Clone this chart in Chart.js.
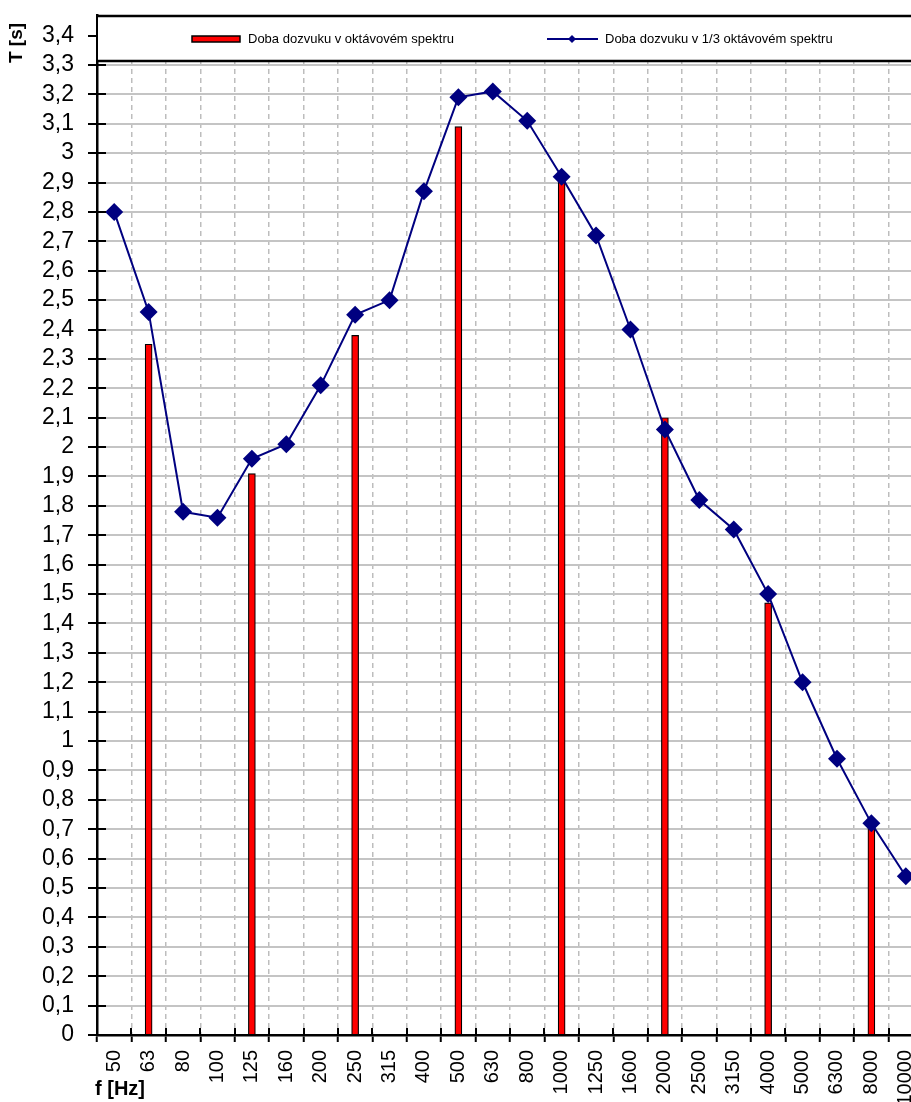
<!DOCTYPE html>
<html>
<head>
<meta charset="utf-8">
<script src="https://cdn.jsdelivr.net/npm/chart.js@4"></script>
<style>
  html, body { margin: 0; padding: 0; background: #fff; overflow: hidden; }
  #wrap { width: 938px; height: 1102px; position: relative; }
</style>
</head>
<body>
<div id="wrap"><canvas id="chart"></canvas></div>
<script>
// frequency bands (Hz)
const bands = ['50', '63', '80', '100', '125', '160', '200', '250', '315', '400', '500', '630',
    '800', '1000', '1250', '1600', '2000', '2500', '3150', '4000', '5000', '6300', '8000', '10000'];

// reverberation time, octave bands (bars), zero where no octave band
const octaveT = [0, 2.35, 0, 0, 1.91, 0, 0, 2.38, 0, 0, 3.09, 0,
    0, 2.91, 0, 0, 2.10, 0, 0, 1.47, 0, 0, 0.71, 0];

// reverberation time, 1/3 octave bands (line)
const thirdT = [2.80, 2.46, 1.78, 1.76, 1.96, 2.01, 2.21, 2.45, 2.50, 2.87, 3.19, 3.21,
    3.11, 2.92, 2.72, 2.40, 2.06, 1.82, 1.72, 1.50, 1.20, 0.94, 0.72, 0.54];

const yTicks = [];
for (let i = 0; i <= 34; i++) yTicks.push(i / 10);

const seriesNames = ['Doba dozvuku v oktávovém spektru', 'Doba dozvuku v 1/3 oktávovém spektru'];

const red = '#ff0000';
const navy = '#000080';

function fmt(v) {
    return String(Math.round(v * 10) / 10).replace('.', ',');
}

function noPad(scale) {
    scale.paddingTop = 0;
    scale.paddingBottom = 0;
}

// ticks crossing the axes, legend box and axis titles
const extras = {
    id: 'extras',
    afterDraw(chart) {
        const ctx = chart.ctx;
        const area = chart.chartArea;
        const x = chart.scales.x, y = chart.scales.y;
        ctx.save();

        // inner halves of tick marks
        ctx.strokeStyle = '#000';
        ctx.lineWidth = 2;
        ctx.beginPath();
        yTicks.forEach(v => {
            const py = Math.round(y.getPixelForValue(v));
            ctx.moveTo(area.left, py);
            ctx.lineTo(area.left + 9, py);
        });
        const step = x.getPixelForValue(1) - x.getPixelForValue(0);
        for (let i = 0; i < bands.length; i++) {
            const px = Math.round(x.getPixelForValue(i) - step / 2);
            ctx.moveTo(px, area.bottom);
            ctx.lineTo(px, area.bottom - 7);
        }
        ctx.stroke();

        // legend box
        const top = area.top, bot = area.top + 46;
        ctx.fillStyle = '#fff';
        ctx.fillRect(area.left + 1, top, area.right - area.left, bot - top);
        ctx.lineWidth = 2.5;
        ctx.beginPath();
        ctx.moveTo(area.left, top + 1);
        ctx.lineTo(area.right + 5, top + 1);
        ctx.moveTo(area.left, bot);
        ctx.lineTo(area.right + 5, bot);
        ctx.stroke();

        const ly = top + 24;
        ctx.font = '13px "Liberation Sans", Arial, sans-serif';
        ctx.textBaseline = 'middle';
        ctx.fillStyle = red;
        ctx.fillRect(192, ly - 3, 48, 6);
        ctx.lineWidth = 1.5;
        ctx.strokeStyle = '#000';
        ctx.strokeRect(192, ly - 3, 48, 6);
        ctx.fillStyle = '#000';
        ctx.fillText(seriesNames[0], 248, ly);

        ctx.strokeStyle = navy;
        ctx.lineWidth = 2;
        ctx.beginPath();
        ctx.moveTo(547, ly);
        ctx.lineTo(598, ly);
        ctx.stroke();
        ctx.fillStyle = navy;
        ctx.beginPath();
        ctx.moveTo(572, ly - 4);
        ctx.lineTo(576, ly);
        ctx.lineTo(572, ly + 4);
        ctx.lineTo(568, ly);
        ctx.closePath();
        ctx.fill();
        ctx.fillStyle = '#000';
        ctx.fillText(seriesNames[1], 605, ly);

        // axis titles
        ctx.font = 'bold 19px "Liberation Sans", Arial, sans-serif';
        ctx.fillStyle = '#000';
        ctx.save();
        ctx.translate(17, 43);
        ctx.rotate(-Math.PI / 2);
        ctx.textAlign = 'center';
        ctx.fillText('T [s]', 0, 0);
        ctx.restore();
        ctx.font = 'bold 20px "Liberation Sans", Arial, sans-serif';
        ctx.textAlign = 'left';
        ctx.fillText('f [Hz]', 95, 1089);

        ctx.restore();
    }
};

const chart = new Chart(document.getElementById('chart'), {
    type: 'bar',
    data: {
        labels: bands,
        datasets: [
            {
                type: 'line',
                label: seriesNames[1],
                data: thirdT,
                borderColor: navy,
                backgroundColor: navy,
                borderWidth: 2,
                pointStyle: 'rectRot',
                pointRadius: 9,
                pointBorderWidth: 0,
                tension: 0,
                order: 0
            },
            {
                label: seriesNames[0],
                data: octaveT,
                backgroundColor: red,
                borderColor: '#000',
                borderWidth: 1.2,
                barThickness: 7,
                order: 1
            }
        ]
    },
    options: {
        responsive: true,
        maintainAspectRatio: false,
        animation: false,
        layout: { padding: { top: 15, right: 0, left: 0, bottom: 0 } },
        plugins: {
            legend: { display: false },
            tooltip: { enabled: false }
        },
        scales: {
            x: {
                offset: true,
                grid: {
                    offset: true,
                    color: '#bdbdbd',
                    lineWidth: 1.5,
                    tickColor: '#000',
                    tickWidth: 2,
                    tickLength: 7
                },
                border: { color: '#000', width: 2.5, dash: [5, 4] },
                ticks: {
                    color: '#000',
                    font: { family: '"Liberation Sans", Arial, sans-serif', size: 20 },
                    minRotation: 90,
                    maxRotation: 90,
                    autoSkip: false,
                    padding: 8
                },
                afterFit(scale) { scale.height = 67; noPad(scale); }
            },
            y: {
                min: 0,
                max: 3.47,
                grid: {
                    color: '#c4c4c4',
                    lineWidth: 2,
                    tickColor: '#000',
                    tickWidth: 2,
                    tickLength: 9
                },
                border: { color: '#000', width: 2.5 },
                afterBuildTicks(scale) {
                    scale.ticks = yTicks.map(v => ({ value: v }));
                },
                ticks: {
                    color: '#000',
                    font: { family: '"Liberation Sans", Arial, sans-serif', size: 23 },
                    padding: 14,
                    autoSkip: false,
                    callback: v => fmt(v)
                },
                afterFit(scale) { scale.width = 97; noPad(scale); }
            }
        }
    },
    plugins: [extras]
});
</script>
</body>
</html>
